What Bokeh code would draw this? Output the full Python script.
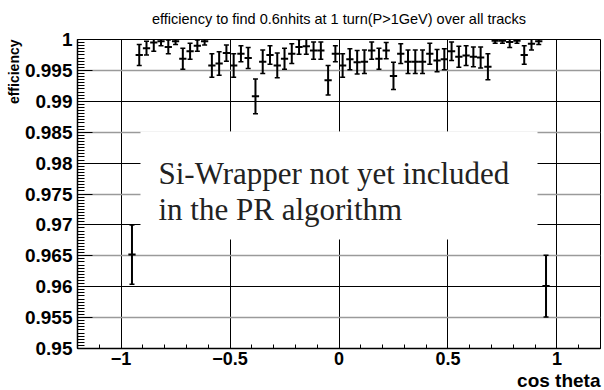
import numpy as np
from bokeh.plotting import figure
from bokeh.models import Range1d, FixedTicker, Grid, Label, BoxAnnotation, ColumnDataSource, Title
from bokeh.embed import file_html
from bokeh.resources import INLINE

# ---------------- data ----------------
title_text = "efficiency to find 0.6nhits at 1 turn(P>1GeV) over all tracks"
x_title = "cos theta"
y_title = "efficiency"
note_lines = ["Si-Wrapper not yet included", "in the PR algorithm"]

n_bins = 60            # histogram binning in cos theta: 60 bins on [-1, 1]
bin_low, bin_high = -1.0, 1.0
bin_index = list(range(1, 59))   # filled bins

efficiency = [0.9652, 0.9975, 0.9986, 0.9995, 0.9997, 0.9988, 0.9997, 0.9969, 0.9981, 0.9990,
              0.9997, 0.9958, 0.9961, 0.9978, 0.9958, 0.9977, 0.9970, 0.9908, 0.9964, 0.9975,
              0.9958, 0.9969, 0.9977, 0.9988, 0.9989, 0.9982, 0.9982, 0.9934, 0.9977, 0.9958,
              0.9968, 0.9963, 0.9964, 0.9982, 0.9969, 0.9982, 0.9941, 0.9977, 0.9964, 0.9964,
              0.9964, 0.9977, 0.9966, 0.9968, 0.9981, 0.9972, 0.9974, 0.9972, 0.9971, 0.9956,
              0.9998, 0.9998, 0.9996, 0.9998, 0.9975, 0.9993, 0.9997, 0.9601]
error = [0.0048, 0.0017, 0.0011, 0.0014, 0.0007, 0.0011, 0.0005, 0.0017, 0.0013, 0.0009,
         0.0006, 0.0019, 0.0019, 0.0013, 0.0019, 0.0013, 0.0017, 0.0028, 0.0019, 0.0015,
         0.0020, 0.0017, 0.0016, 0.0012, 0.0013, 0.0014, 0.0014, 0.0024, 0.0013, 0.0019,
         0.0017, 0.0019, 0.0019, 0.0014, 0.0017, 0.0013, 0.0022, 0.0016, 0.0019, 0.0019,
         0.0019, 0.0017, 0.0018, 0.0017, 0.0015, 0.0017, 0.0016, 0.0016, 0.0017, 0.0021,
         0.0004, 0.0004, 0.0009, 0.0004, 0.0015, 0.0010, 0.0005, 0.0050]

x_major = [-1.0, -0.5, 0.0, 0.5, 1.0]
x_labels = ["\u22121", "\u22120.5", "0", "0.5", "1"]
y_major = [0.95, 0.955, 0.96, 0.965, 0.97, 0.975, 0.98, 0.985, 0.99, 0.995, 1.0]
y_labels = ["0.95", "0.955", "0.96", "0.965", "0.97", "0.975", "0.98", "0.985", "0.99", "0.995", "1"]

# ---------------- layout ----------------
W, H = 604, 390
FL, FR, FT, FB = 77, 4, 38, 40
XMIN, XMAX, YMIN, YMAX = -1.2, 1.2, 0.95, 1.0


def dx(px):
    return XMIN + (px - FL) * (XMAX - XMIN) / (W - FL - FR)


def dy(py):
    return YMIN + (H - FB - py) * (YMAX - YMIN) / (H - FT - FB)


bw = (bin_high - bin_low) / n_bins
xc = np.array([bin_low + (i + 0.5) * bw for i in bin_index])
eff = np.array(efficiency)
err = np.array(error)

src = ColumnDataSource(dict(x=xc, y=eff, lo=eff - err, hi=eff + err,
                            xl=xc - bw / 2, xr=xc + bw / 2))

FONT = "Liberation Sans"
p = figure(width=W, height=H, output_backend="svg", toolbar_location=None,
           title=Title(text=title_text, align="center", text_font=FONT, text_font_size="14.5px",
                       text_font_style="normal", text_color="black", standoff=21,
                       vertical_align="top"),
           x_range=Range1d(XMIN, XMAX), y_range=Range1d(YMIN, YMAX),
           min_border_left=FL, min_border_right=FR, min_border_top=FT, min_border_bottom=FB)
p.background_fill_color = "white"
p.border_fill_color = "white"
p.outline_line_color = "black"
p.outline_line_width = 1

# axes
for ax in (p.xaxis[0], p.yaxis[0]):
    ax.axis_line_color = "black"
    ax.axis_line_width = 1.5
    ax.major_tick_line_color = "black"
    ax.minor_tick_line_color = "black"
    ax.major_tick_out = 0
    ax.minor_tick_out = 0
    ax.major_label_text_font = FONT
    ax.major_label_text_font_style = "bold"
    ax.major_label_text_color = "black"

p.xaxis.major_label_text_font_size = "18px"
p.yaxis.major_label_text_font_size = "19px"

p.xaxis.ticker = FixedTicker(ticks=x_major, minor_ticks=list(np.round(np.arange(-1.2, 1.2001, 0.1), 3)))
p.xaxis.major_label_overrides = {v: s for v, s in zip(x_major, x_labels)}
p.xaxis.major_tick_in = 9
p.xaxis.minor_tick_in = 4
p.xaxis.major_label_standoff = 3

p.yaxis.ticker = FixedTicker(ticks=y_major, minor_ticks=list(np.round(np.arange(0.95, 1.00001, 0.0005), 5)))
p.yaxis.major_label_overrides = {v: s for v, s in zip(y_major, y_labels)}
p.yaxis.major_tick_in = 15
p.yaxis.minor_tick_in = 7
p.yaxis.major_label_standoff = 5

# axis titles (ROOT style: placed at the axis end)
p.add_layout(Title(text=x_title, align="right", text_font=FONT, text_font_size="19px",
                   text_font_style="bold", text_color="black", standoff=0), "below")
p.add_layout(Title(text=y_title, align="right", text_font=FONT, text_font_size="14px",
                   text_font_style="bold", text_color="black", standoff=0), "left")

# grids
p.xgrid.ticker = FixedTicker(ticks=x_major)
p.xgrid.grid_line_color = "black"
p.xgrid.grid_line_width = 1
p.ygrid.ticker = FixedTicker(ticks=[0.96, 0.97, 0.98, 0.99])
p.ygrid.grid_line_color = "black"
p.ygrid.grid_line_width = 1
p.add_layout(Grid(dimension=1, ticker=FixedTicker(ticks=[0.955, 0.965, 0.975, 0.985, 0.995]),
                  grid_line_color="#9a9a9a", grid_line_width=1.5))

# white box covering the grid behind the note
p.add_layout(BoxAnnotation(left=dx(140), right=dx(537), top=dy(131), bottom=dy(240),
                           fill_color="white", fill_alpha=1.0, line_color=None, level="underlay"))

# data: error bars
p.segment(x0="x", y0="lo", x1="x", y1="hi", source=src, line_color="black", line_width=2)
p.segment(x0="xl", y0="y", x1="xr", y1="y", source=src, line_color="black", line_width=2)
p.scatter(x="x", y="lo", source=src, marker="dash", size=5, line_color="black", line_width=1.5)
p.scatter(x="x", y="hi", source=src, marker="dash", size=5, line_color="black", line_width=1.5)

# note inside the frame
for k, line in enumerate(note_lines):
    p.add_layout(Label(x=dx(158), y=dy(173 + 37 * k), text=line, text_align="left",
                       text_baseline="alphabetic", text_font="Liberation Serif",
                       text_font_size="31px", text_color="#222222"))

open("out.html", "w").write(file_html(p, INLINE))
